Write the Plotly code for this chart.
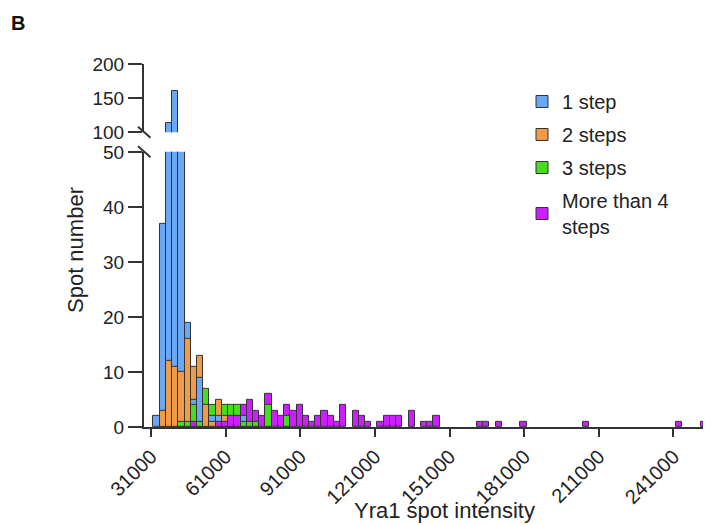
import plotly.graph_objects as go

# ---- data (histogram counts, bin width 2500, first bin starts at 32000) ----
bin_start = 32000
bin_width = 2500
n_bins = 89

one_step = [2, 37, 113, 161, 70, 19, 5, 9, 0, 2, 2, 0, 0, 0, 2]
two_steps = [0, 3, 12, 11, 10, 16, 11, 13, 4, 1, 5, 2]
three_steps = [0, 0, 0, 0, 1, 1, 4, 1, 7, 4, 0, 4, 4, 4, 1, 1, 1, 0, 4, 0, 0, 2]
more_steps = [0, 0, 0, 0, 0, 0, 1, 0, 0, 0, 1, 1, 2, 2, 4, 5, 3, 2, 6, 3,
              2, 4, 3, 4, 2, 1, 2, 3, 2, 1, 4, 0, 3, 2, 1, 0, 1, 2, 2, 2,
              0, 3, 0, 1, 1, 2, 0, 0, 0, 0, 0, 0, 1, 1, 0, 1, 0, 0, 0, 1,
              0, 0, 0, 0, 0, 0, 0, 0, 0, 1, 0, 0, 0, 0, 0, 0, 0, 0, 0, 0,
              0, 0, 0, 0, 1, 0, 0, 0, 1]

series_names = ["1 step", "2 steps", "3 steps", "More than 4<br>steps"]
series_colors = ["#6AA8F5", "#F09B4A", "#48DC1E", "#CC1FFF"]
series_counts = [one_step, two_steps, three_steps, more_steps]

x_ticks = [31000, 61000, 91000, 121000, 151000, 181000, 211000, 241000]
low_ticks = [0, 10, 20, 30, 40, 50]
high_ticks = [100, 150, 200]

# ---- build per-bin overlaid layers (taller bars behind, shorter in front) ----
def pad(a):
    return list(a) + [0] * (n_bins - len(a))

counts = [pad(c) for c in series_counts]
centers = [bin_start + bin_width * (i + 0.5) for i in range(n_bins)]

layers = [dict(x=[], y=[], c=[]) for _ in range(4)]
for i in range(n_bins):
    items = [(counts[s][i], series_colors[s]) for s in range(4) if counts[s][i] > 0]
    items.sort(key=lambda t: -t[0])
    for k, (v, col) in enumerate(items):
        layers[k]["x"].append(centers[i])
        layers[k]["y"].append(v)
        layers[k]["c"].append(col)

LINE = "#333333"
fig = go.Figure()
for yax in ["y", "y2"]:
    for L in layers:
        fig.add_trace(go.Bar(
            x=L["x"], y=L["y"], width=bin_width, yaxis=yax,
            marker=dict(color=L["c"], line=dict(color=LINE, width=1)),
            showlegend=False, hoverinfo="skip"))

for name, col in zip(series_names, series_colors):
    fig.add_trace(go.Bar(x=[None], y=[None], name=name, legendgroup=name,
                         marker=dict(color=col, line=dict(color=LINE, width=1))))

# ---- layout (page body adds an 8px offset) ----
OFF = 8
W, H = 711 - OFF, 525 - OFF
ml, mr, mt, mb = 136, 0, 56, 98
pw, ph = W - ml - mr, H - mt - mb
low_dom = [0, 0.758]
high_dom = [0.812, 1.0]

def px_x(sx):
    return (sx - OFF - ml) / pw

def px_y(sy):
    return (H - mb - (sy - OFF)) / ph

FONT = "Liberation Sans, Arial, sans-serif"
axis_common = dict(showline=True, linecolor=LINE, linewidth=2, ticks="outside",
                   tickcolor=LINE, tickwidth=2, showgrid=False, zeroline=False)

fig.update_layout(
    width=W, height=H, margin=dict(l=ml, r=mr, t=mt, b=mb),
    paper_bgcolor="white", plot_bgcolor="white",
    barmode="overlay", bargap=0,
    font=dict(family=FONT, color="#222222"),
    xaxis=dict(range=[28190, 256080], tickvals=x_ticks, ticktext=[str(v) for v in x_ticks],
               tickangle=-45, ticklen=8, anchor="y",
               tickfont=dict(size=20, color="#222222", family=FONT), **axis_common),
    yaxis=dict(domain=low_dom, range=[0, 50], tickvals=low_ticks, ticklen=14,
               anchor="x", tickfont=dict(size=19, color="#222222", family=FONT),
               **axis_common),
    yaxis2=dict(domain=high_dom, range=[100, 200], tickvals=high_ticks, ticklen=14,
                anchor="x", tickfont=dict(size=19, color="#222222", family=FONT),
                **axis_common),
    legend=dict(x=px_x(522), y=px_y(82), xanchor="left", yanchor="top",
                font=dict(size=20, color="#222222", family=FONT),
                traceorder="grouped", tracegroupgap=4, bgcolor="rgba(0,0,0,0)"),
    showlegend=True,
)

# axis break marks
for yc in [high_dom[0], low_dom[1]]:
    fig.add_shape(type="line", xref="paper", yref="paper",
                  x0=px_x(138), x1=px_x(150.5), y0=yc + 5.5 / ph, y1=yc - 5.5 / ph,
                  line=dict(color=LINE, width=2))

fig.add_annotation(text="<b>B</b>", xref="paper", yref="paper", x=px_x(9), y=px_y(23),
                   xanchor="left", yanchor="middle", showarrow=False,
                   font=dict(size=20, color="#111111", family=FONT))
fig.add_annotation(text="Spot number", xref="paper", yref="paper", x=px_x(75), y=px_y(250),
                   textangle=-90, xanchor="center", yanchor="middle", showarrow=False,
                   font=dict(size=22, color="#222222", family=FONT))
fig.add_annotation(text="Yra1 spot intensity", xref="paper", yref="paper", x=px_x(444),
                   y=px_y(510), xanchor="center", yanchor="middle", showarrow=False,
                   font=dict(size=22, color="#222222", family=FONT))

fig.write_html("out.html")
